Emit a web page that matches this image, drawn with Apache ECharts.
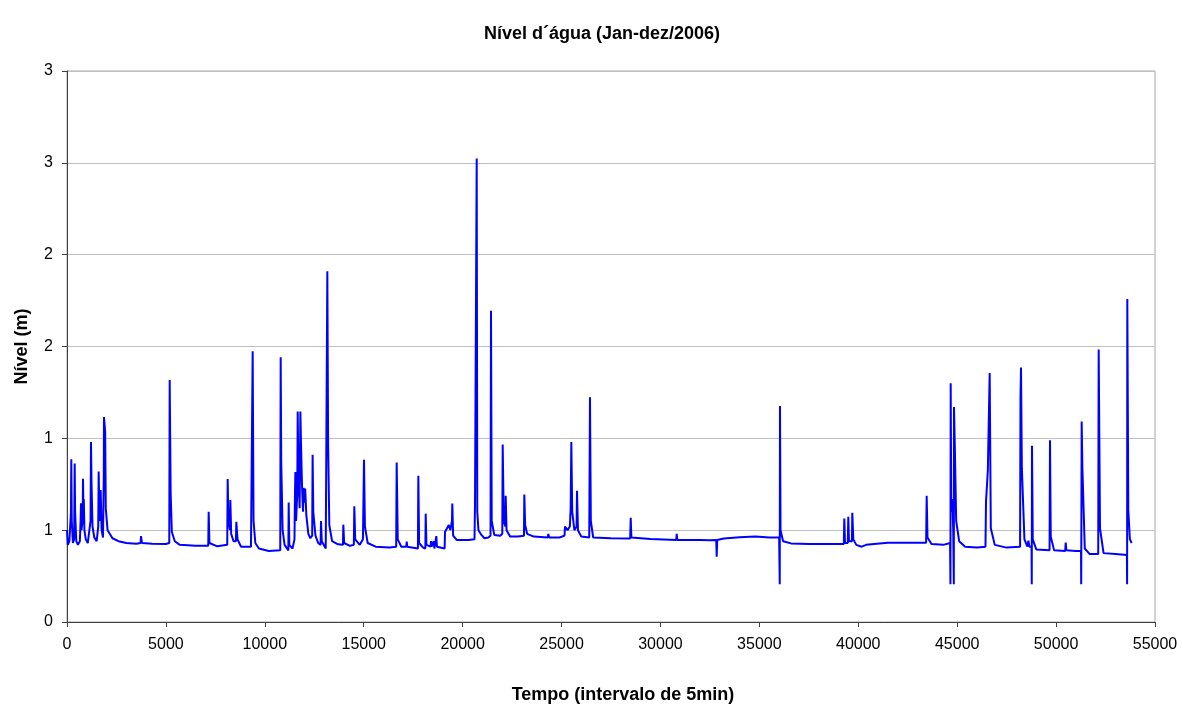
<!DOCTYPE html>
<html>
<head>
<meta charset="utf-8">
<script src="https://cdn.jsdelivr.net/npm/echarts@6/dist/echarts.min.js"></script>
<style>
html,body{margin:0;padding:0;background:#fff;}
#chart{width:1182px;height:709px;}
</style>
</head>
<body>
<div id="chart"></div>
<script>
// Time index (5-min intervals) and water level (m)
const tempo = [
0,40,120,200,217,240,300,360,389,410,470,550,650,690,708,730,790,809,830,850,880,950,1050,1190,1213,1240,1290,1380,1500,1580,1601,1640,1702,1750,1820,1860,1870,1930,1960,2050,2300,2600,3000,3500,3720,3741,3790,4300,5000,5170,5191,5240,5300,5450,5700,6500,7140,7162,7200,7600,8100,8122,8160,8240,8257,8300,8420,8540,8560,8620,8800,9300,9370,9386,9430,9520,9700,10200,10780,10802,10830,10900,11000,11190,11206,11240,11400,11500,11520,11544,11580,11640,11662,11700,11760,11797,11830,11880,11930,11960,12000,12040,12100,12200,12300,12395,12416,12450,12560,12700,12820,12840,12880,13080,13140,13160,13200,13260,13400,13700,13950,13968,14010,14300,14500,14524,14570,14800,14960,14980,15014,15060,15200,15600,16300,16640,16666,16720,16900,17150,17172,17200,17740,17760,17800,18000,18115,18132,18170,18380,18400,18430,18520,18540,18570,18650,18670,18700,19090,19108,19200,19300,19380,19460,19478,19520,19700,20300,20600,20625,20711,20740,20800,20950,21100,21300,21410,21434,21470,21600,21900,22005,22025,22080,22160,22177,22220,22400,22800,23100,23118,23160,23260,23600,24300,24332,24370,24900,25150,25174,25300,25420,25460,25494,25540,25650,25760,25781,25830,26000,26400,26438,26480,26600,27500,28470,28496,28530,29500,30800,30821,30850,32000,32500,32820,32843,32870,33200,34000,34800,35500,36000,36030,36043,36070,36200,36600,37500,38500,39270,39294,39330,39470,39496,39530,39680,39698,39750,39900,40170,40400,40800,41500,42500,43430,43458,43500,43700,44300,44640,44660,44672,44700,44760,44800,44830,44839,44880,44950,45100,45400,46000,46430,46457,46550,46643,46700,46900,47500,48180,48200,48226,48270,48400,48550,48600,48650,48760,48770,48782,48820,49000,49670,49692,49730,49900,50460,50486,50520,51000,51260,51270,51293,51330,51450,51700,52130,52153,52220,52400,53000,53580,53590,53600,53650,53730,53822
];
const nivel = [
0.50,0.42,0.44,0.60,0.886,0.55,0.43,0.45,0.863,0.60,0.44,0.42,0.44,0.56,0.646,0.50,0.55,0.78,0.62,0.668,0.50,0.45,0.43,0.55,0.98,0.754,0.52,0.46,0.44,0.52,0.82,0.55,0.718,0.50,0.46,0.80,1.116,1.035,0.62,0.50,0.456,0.44,0.43,0.426,0.43,0.468,0.43,0.426,0.425,0.43,1.318,0.70,0.49,0.44,0.42,0.415,0.415,0.60,0.43,0.412,0.42,0.778,0.55,0.50,0.664,0.48,0.44,0.44,0.546,0.45,0.41,0.41,0.42,1.474,0.55,0.43,0.40,0.387,0.39,1.441,0.87,0.50,0.42,0.39,0.65,0.42,0.40,0.45,0.66,0.817,0.55,0.70,1.146,0.80,0.62,1.146,0.97,0.745,0.60,0.73,0.65,0.727,0.58,0.48,0.456,0.47,0.91,0.60,0.47,0.43,0.42,0.55,0.44,0.40,0.40,1.91,0.966,0.528,0.44,0.423,0.42,0.53,0.43,0.415,0.42,0.63,0.45,0.42,0.45,0.61,0.884,0.52,0.43,0.41,0.405,0.41,0.868,0.45,0.41,0.41,0.438,0.41,0.40,0.796,0.43,0.405,0.40,0.59,0.42,0.41,0.44,0.41,0.41,0.44,0.40,0.40,0.468,0.41,0.40,0.49,0.50,0.528,0.50,0.55,0.645,0.47,0.447,0.447,0.45,0.645,2.523,0.60,0.50,0.474,0.456,0.46,0.47,1.694,0.55,0.474,0.47,0.48,0.966,0.55,0.52,0.687,0.50,0.465,0.465,0.47,0.694,0.528,0.48,0.465,0.46,0.48,0.46,0.46,0.47,0.52,0.50,0.52,0.618,0.98,0.60,0.50,0.52,0.714,0.50,0.465,0.46,1.224,0.55,0.46,0.456,0.455,0.568,0.46,0.452,0.447,0.48,0.447,0.447,0.445,0.447,0.356,0.447,0.455,0.462,0.465,0.46,0.462,0.206,1.176,0.50,0.44,0.428,0.425,0.425,0.425,0.564,0.43,0.43,0.573,0.44,0.44,0.595,0.45,0.42,0.41,0.42,0.425,0.432,0.432,0.432,0.687,0.46,0.425,0.42,0.43,0.206,1.30,0.60,0.67,0.50,0.206,1.17,0.96,0.55,0.44,0.41,0.405,0.41,0.655,0.826,1.355,0.51,0.42,0.405,0.41,1.22,1.385,0.835,0.45,0.41,0.443,0.41,0.41,0.206,0.96,0.45,0.395,0.39,0.99,0.465,0.39,0.387,0.432,0.39,0.387,0.387,0.206,1.092,0.835,0.40,0.37,0.37,1.483,0.51,0.375,0.37,0.365,0.206,1.758,0.61,0.45,0.43
];
const yTickLabels = ['0','1','1','2','2','3','3'];
const titleText = 'Nível d´água (Jan-dez/2006)';
const xName = 'Tempo (intervalo de 5min)';
const yName = 'Nível (m)';

const seriesData = tempo.map((t, i) => [t, nivel[i]]);
const FONT = '"Liberation Sans", Arial, sans-serif';

const chart = echarts.init(document.getElementById('chart'), null, {renderer: 'canvas'});
chart.setOption({
  animation: false,
  backgroundColor: '#ffffff',
  title: {
    text: titleText,
    left: 597,
    top: 20,
    textAlign: 'center',
    textStyle: {fontFamily: FONT, fontSize: 18, fontWeight: 'bold', color: '#000'}
  },
  grid: {
    left: 67, top: 71, right: 27, bottom: 85,
    show: true, borderColor: '#a6a6a6', borderWidth: 1, backgroundColor: 'transparent'
  },
  xAxis: {
    type: 'value',
    min: 0, max: 55000, interval: 5000,
    name: xName,
    nameLocation: 'middle',
    nameGap: 64,
    nameTextStyle: {fontFamily: FONT, fontSize: 18, fontWeight: 'bold', color: '#000', padding: [0, 0, 0, 24]},
    axisLine: {show: true, lineStyle: {color: '#404040', width: 1}},
    axisTick: {show: true, inside: false, length: 5, lineStyle: {color: '#404040'}},
    axisLabel: {fontFamily: FONT, fontSize: 16, color: '#000', margin: 15,
      formatter: function (v) { return String(v); }},
    splitLine: {show: false}
  },
  yAxis: {
    type: 'value',
    min: 0, max: 3, interval: 0.5,
    name: yName,
    nameLocation: 'middle',
    nameGap: 36,
    nameRotate: 90,
    nameTextStyle: {fontFamily: FONT, fontSize: 18, fontWeight: 'bold', color: '#000'},
    axisLine: {show: true, lineStyle: {color: '#404040', width: 1}},
    axisTick: {show: true, inside: false, length: 5, lineStyle: {color: '#404040'}},
    axisLabel: {
      fontFamily: FONT, fontSize: 16, color: '#000', margin: 14,
      formatter: function (v) { return yTickLabels[Math.round(v / 0.5)]; }
    },
    splitLine: {show: true, lineStyle: {color: '#c0c0c0', width: 1}}
  },
  series: [{
    type: 'line',
    data: seriesData,
    showSymbol: false,
    symbol: 'none',
    lineStyle: {color: '#0000ff', width: 2},
    itemStyle: {color: '#0000ff'},
    z: 3
  }]
});
</script>
</body>
</html>
